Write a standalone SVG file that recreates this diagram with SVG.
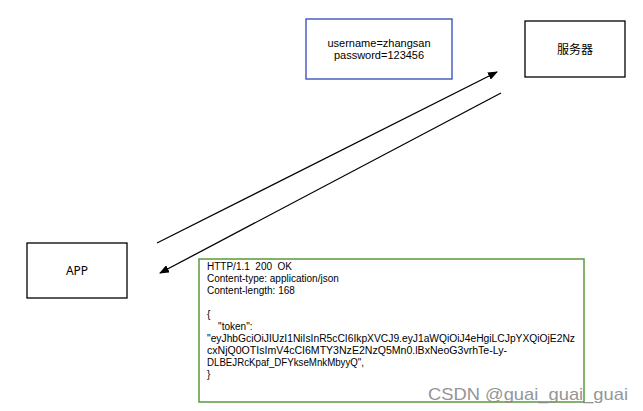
<svg xmlns="http://www.w3.org/2000/svg" width="643" height="411" viewBox="0 0 643 411">
<style>
.box{fill:#fff;stroke:#000;stroke-width:1.3}
.t{font-family:"Noto Sans","Liberation Sans","Noto Sans CJK SC",sans-serif;fill:#000}
.r{font-family:"Liberation Sans","Noto Sans",sans-serif;fill:#000}
.c{fill:none;stroke:#000;stroke-width:1.3}
</style>
<defs>
<marker id="ah" markerWidth="10" markerHeight="8" refX="9" refY="4" orient="auto" markerUnits="userSpaceOnUse">
<path d="M0,0 L10,4 L0,8 z" fill="#000"/>
</marker>
</defs>
<rect width="643" height="411" fill="#fff"/>
<g id="credentials">
<rect x="306" y="19" width="146" height="60" fill="#fff" stroke="#4a5fc1" stroke-width="1.5"/>
<text class="r" x="379" y="47" font-size="11" text-anchor="middle">username=zhangsan</text>
<text class="r" x="379" y="59" font-size="11" text-anchor="middle">password=123456</text>
</g>
<g id="server">
<rect class="box" x="525" y="21" width="100" height="56"/>
<text class="t" x="575" y="54" font-size="12" text-anchor="middle" fill="#333">服务器</text>
</g>
<g id="app">
<rect class="box" x="27" y="243" width="100" height="55"/>
<text class="t" x="77" y="275" font-size="12" text-anchor="middle">APP</text>
</g>
<g id="connectors">
<line class="c" x1="157" y1="243" x2="497" y2="72" marker-end="url(#ah)"/>
<line class="c" x1="501" y1="93" x2="160" y2="273" marker-end="url(#ah)"/>
</g>
<g id="response">
<rect x="199" y="259" width="385" height="143" fill="#fff" stroke="#5a9a3c" stroke-width="1.5"/>
<g class="r" font-size="10">
<text x="207" y="270">HTTP/1.1&#160; 200&#160; OK</text>
<text x="207" y="282">Content-type: application/json</text>
<text x="207" y="294">Content-length: 168</text>
<text x="207" y="318">{</text>
<text x="207" y="330">&#160;&#160;&#160;&#160;"token":</text>
<text x="207" y="342" textLength="368" lengthAdjust="spacingAndGlyphs">"eyJhbGciOiJIUzI1NiIsInR5cCI6IkpXVCJ9.eyJ1aWQiOiJ4eHgiLCJpYXQiOjE2Nz</text>
<text x="207" y="354" textLength="300" lengthAdjust="spacingAndGlyphs">cxNjQ0OTIsImV4cCI6MTY3NzE2NzQ5Mn0.lBxNeoG3vrhTe-Ly-</text>
<text x="207" y="366" textLength="157" lengthAdjust="spacingAndGlyphs">DLBEJRcKpaf_DFYkseMnkMbyyQ",</text>
<text x="207" y="378">}</text>
</g>
</g>
<text x="428" y="400" font-family="Liberation Sans, sans-serif" font-size="17" textLength="200" lengthAdjust="spacingAndGlyphs" fill="#8a8a8a" opacity="0.9">CSDN @guai_guai_guai</text>
</svg>
